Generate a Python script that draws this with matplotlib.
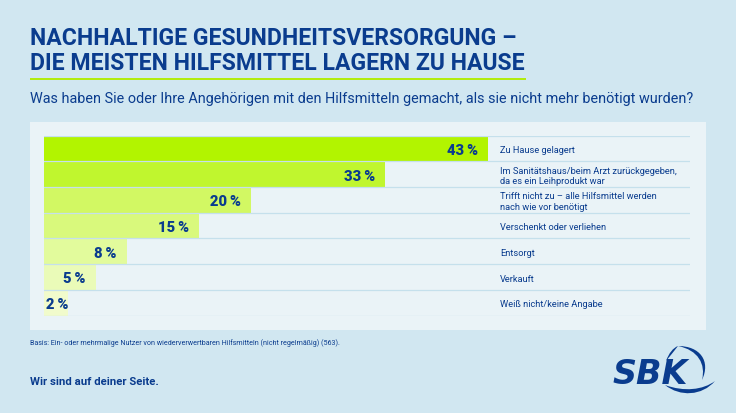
import matplotlib
matplotlib.use('Agg')
import matplotlib.pyplot as plt
from matplotlib.patches import PathPatch, Rectangle
from matplotlib.path import Path

# Daten
labels = ['Zu Hause gelagert',
          'Im Sanitätshaus/beim Arzt zurückgegeben,\nda es ein Leihprodukt war',
          'Trifft nicht zu – alle Hilfsmittel werden\nnach wie vor benötigt',
          'Verschenkt oder verliehen',
          'Entsorgt',
          'Verkauft',
          'Weiß nicht/keine Angabe']
values = [43, 33, 20, 15, 8, 5, 2.35]  # letzter Balken ist etwas laenger als 2 gezeichnet
bar_colors = ['#B2F400', '#C0F62E', '#D2F863', '#D9F97C', '#E2FB9C', '#EAFBB8', '#F1FBCC']

BG = '#D1E7F1'
PANEL = '#EAF3F7'
BLUE = '#0A3C8E'
LINE = '#C5E0EC'
W, H = 736, 414

plt.rcParams['font.family'] = ['Roboto', 'DejaVu Sans']

fig = plt.figure(figsize=(W / 100, H / 100), dpi=100, facecolor=BG)

# Hintergrund-Ebene in Pixelkoordinaten
bg = fig.add_axes([0, 0, 1, 1])
bg.set_xlim(0, W)
bg.set_ylim(H, 0)
bg.axis('off')
bg.add_patch(Rectangle((30, 123), 676, 208, facecolor=PANEL, edgecolor='none'))
bg.add_patch(Rectangle((30, 78.5), 495.5, 2.8, facecolor='#B2EC10', edgecolor='none'))

bg.text(30, 44.8, 'NACHHALTIGE GESUNDHEITSVERSORGUNG –', fontsize=16.6, fontweight='bold',
        color=BLUE, va='baseline')
bg.text(30, 70.5, 'DIE MEISTEN HILFSMITTEL LAGERN ZU HAUSE', fontsize=16.6, fontweight='bold',
        color=BLUE, va='baseline')
bg.text(30, 103.5, 'Was haben Sie oder Ihre Angehörigen mit den Hilfsmitteln gemacht, als sie nicht mehr benötigt wurden?',
        fontsize=10.4, color=BLUE, va='baseline')
bg.text(30, 345.5, 'Basis: Ein- oder mehrmalige Nutzer von wiederverwertbaren Hilfsmitteln (nicht regelmäßig) (563).',
        fontsize=5.15, color=BLUE, va='baseline')
bg.text(30, 385, 'Wir sind auf deiner Seite.', fontsize=8.2, fontweight='bold', color=BLUE, va='baseline')

# Logo
bg.text(612.5, 384, 'SBK', fontsize=24, fontweight='bold', style='italic', family='DejaVu Sans',
        color=BLUE, va='baseline')
swoosh_top = [(678, 347), (700, 347), (711, 362), (702, 381), (706, 365), (698, 351), (678, 347)]
swoosh_low = [(665, 386), (680, 398), (702, 397), (715, 382), (703, 391), (684, 393), (665, 386)]
accent = [(666, 362), (669, 354), (673, 349), (678, 347), (674, 352), (671, 356), (666, 362)]
codes = [Path.MOVETO, Path.CURVE4, Path.CURVE4, Path.CURVE4, Path.CURVE4, Path.CURVE4, Path.CURVE4]
for pts in (swoosh_top, swoosh_low, accent):
    bg.add_patch(PathPatch(Path(pts, codes), facecolor=BLUE, edgecolor='none'))

# Balken
left, right, top, bottom = 44, 690, 136.5, 316.5
ax = fig.add_axes([left / W, 1 - bottom / H, (right - left) / W, (bottom - top) / H])
ax.patch.set_alpha(0)
ypos = list(range(len(values)))
ax.barh(ypos, values, height=1.0, color=bar_colors, edgecolor='none', zorder=1)
ax.set_xlim(0, (right - left) / 10.33)
ax.set_ylim(len(values) - 0.5, -0.5)
for s in ax.spines.values():
    s.set_visible(False)
ax.set_xticks([])
ax.set_yticks([])
for y in range(len(values) + 1):
    ax.axhline(y - 0.5, color=LINE, lw=0.9, zorder=2)

for y, (v, lab) in enumerate(zip(values, labels)):
    pad = -10 if v > 3 else 0
    ax.annotate(f'{round(v)}\u2009%', (v, y), xytext=(pad, -1.5), textcoords='offset pixels',
                ha='right', va='center', fontsize=10.6, fontweight='black',
                color=BLUE, zorder=3)
    ax.annotate(lab, (0, y), xycoords=('axes fraction', 'data'), xytext=(456, -1.2),
                textcoords='offset pixels', ha='left', va='center', fontsize=6.65,
                color=BLUE, linespacing=1.2, zorder=3)

fig.savefig('out.png', dpi=100, facecolor=BG)
